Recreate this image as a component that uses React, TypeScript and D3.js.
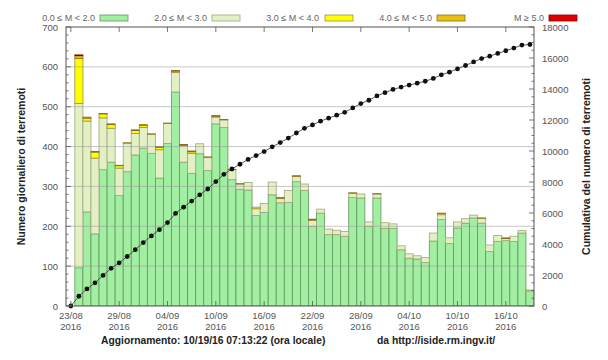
import React, { useEffect, useRef } from 'react'
import * as d3 from 'd3'

// daily counts 24/08/2016 .. 19/10/2016, split by magnitude class
const m0to2 = [96,236,181,342,361,277,337,379,396,383,321,408,537,361,333,382,340,457,448,317,293,291,227,235,279,259,260,312,290,200,233,179,179,175,272,271,200,271,195,195,141,120,118,109,163,217,157,196,208,221,208,137,162,164,162,183,38]
const m2to3 = [412,228,190,130,85,69,71,54,52,48,71,50,49,41,50,25,33,17,19,25,13,19,17,22,32,11,30,13,16,15,10,14,11,12,11,10,11,10,14,11,10,11,8,13,20,12,14,15,11,7,12,16,15,5,13,6,2]
const m3to4 = [113,7,15,10,9,6,2,7,5,0,6,0,3,2,4,0,0,2,0,0,0,0,4,0,0,0,0,0,0,1,0,0,0,0,0,0,0,0,0,0,0,0,0,0,0,3,0,0,0,0,0,0,0,0,0,0,0]
const m4to5 = [7,3,2,1,2,1,0,2,2,1,2,1,2,1,2,0,1,2,1,1,1,0,0,0,0,2,0,2,0,2,0,0,0,0,1,0,0,1,0,0,0,0,0,0,0,1,0,0,0,0,1,0,0,2,0,0,0]
const m5plus = [2,0,0,0,0,0,0,0,0,0,0,0,0,0,0,0,0,0,0,0,0,0,0,0,0,0,0,0,0,0,0,0,0,0,0,0,0,0,0,0,0,0,0,0,0,0,0,0,0,0,0,0,0,0,0,0,0]

const classLabels = ['0.0 \u2264 M < 2.0', '2.0 \u2264 M < 3.0', '3.0 \u2264 M < 4.0', '4.0 \u2264 M < 5.0', 'M \u2265 5.0']
const classColors = ['#a2eea2', '#e3f0c6', '#ffff00', '#e8c010', '#e00000']
const classStrokes = ['#62965a', '#a0a878', '#9a9040', '#8a7020', '#900000']

const tickDays = [0, 6, 12, 18, 24, 30, 36, 42, 48, 54]
const tickLabels = ['23/08', '29/08', '04/09', '10/09', '16/09', '22/09', '28/09', '04/10', '10/10', '16/10']
const leftTicks = [0, 100, 200, 300, 400, 500, 600, 700]
const rightTicks = [0, 2000, 4000, 6000, 8000, 10000, 12000, 14000, 16000, 18000]

const W = 608
const H = 360
const font = 'Liberation Sans, Arial, Helvetica, sans-serif'

const App = () => {
  const svgRef = useRef(null)

  useEffect(() => {
    document.body.style.margin = '0'
    const svg = d3.select(svgRef.current)
    svg.selectAll('*').remove()

    const left = 66, right = 534, top = 27, bottom = 306
    const x = d3.scaleLinear().domain([-0.6, 57.5]).range([left, right])
    const y = d3.scaleLinear().domain([0, 700]).range([bottom, top])
    const y2 = d3.scaleLinear().domain([0, 18000]).range([bottom, top])
    const dayW = x(1) - x(0)

    const rows = m0to2.map((v, i) => ({
      day: i + 1, a: v, b: m2to3[i], c: m3to4[i], d: m4to5[i], e: m5plus[i],
    }))
    const keys = ['a', 'b', 'c', 'd', 'e']
    const series = d3.stack().keys(keys)(rows)

    svg.append('defs').append('clipPath').attr('id', 'plotclip')
      .append('rect').attr('x', left).attr('y', top).attr('width', right - left).attr('height', bottom - top)

    const plot = svg.append('g').attr('clip-path', 'url(#plotclip)')

    series.forEach((s, k) => {
      plot.append('g').selectAll('rect')
        .data(s.filter(d => d[1] - d[0] > 0))
        .join('rect')
        .attr('x', d => x(d.data.day) - dayW / 2)
        .attr('y', d => y(d[1]))
        .attr('width', dayW)
        .attr('height', d => y(d[0]) - y(d[1]))
        .attr('fill', classColors[k])
        .attr('stroke', classStrokes[k])
        .attr('stroke-width', 0.8)
    })

    // grid
    svg.append('g').selectAll('line')
      .data(leftTicks.filter(t => t > 0 && t < 700))
      .join('line')
      .attr('x1', left).attr('x2', right)
      .attr('y1', d => y(d)).attr('y2', d => y(d))
      .attr('stroke', '#9a9a9a').attr('stroke-opacity', 0.55).attr('stroke-width', 1)

    // cumulative
    const totals = rows.map(r => r.a + r.b + r.c + r.d + r.e)
    const cum = [0, ...d3.cumsum(totals)]
    const pts = cum.map((v, i) => [i, v])
    svg.append('path')
      .attr('d', d3.line().x(d => x(d[0])).y(d => y2(d[1]))(pts))
      .attr('fill', 'none').attr('stroke', '#333').attr('stroke-width', 0.8)
    svg.append('g').selectAll('circle').data(pts).join('circle')
      .attr('cx', d => x(d[0])).attr('cy', d => y2(d[1])).attr('r', 2.4).attr('fill', '#111')

    // frame
    svg.append('rect').attr('x', left).attr('y', top).attr('width', right - left).attr('height', bottom - top)
      .attr('fill', 'none').attr('stroke', '#555').attr('stroke-width', 1)

    const ticks = svg.append('g').attr('stroke', '#555').attr('stroke-width', 0.8)
    d3.range(0, 701, 20).forEach(v => {
      const len = v % 100 === 0 ? 5 : 2.5
      ticks.append('line').attr('x1', left).attr('x2', left + len).attr('y1', y(v)).attr('y2', y(v))
    })
    d3.range(0, 18001, 500).forEach(v => {
      const len = v % 2000 === 0 ? 5 : 2.5
      ticks.append('line').attr('x1', right).attr('x2', right - len).attr('y1', y2(v)).attr('y2', y2(v))
    })
    tickDays.forEach(dd => {
      ticks.append('line').attr('x1', x(dd)).attr('x2', x(dd)).attr('y1', bottom).attr('y2', bottom - 5)
      ticks.append('line').attr('x1', x(dd)).attr('x2', x(dd)).attr('y1', top).attr('y2', top + 5)
    })

    const lab = svg.append('g').attr('font-family', font).attr('font-size', 9.5).attr('fill', '#555')
    leftTicks.forEach(t => {
      lab.append('text').attr('x', left - 8).attr('y', y(t) + 3.5).attr('text-anchor', 'end').text(t)
    })
    rightTicks.forEach(t => {
      lab.append('text').attr('x', right + 8).attr('y', y2(t) + 3.5).text(t)
    })
    tickDays.forEach((dd, i) => {
      lab.append('text').attr('x', x(dd)).attr('y', bottom + 13).attr('text-anchor', 'middle').text(tickLabels[i])
      lab.append('text').attr('x', x(dd)).attr('y', bottom + 24).attr('text-anchor', 'middle').text('2016')
    })

    // axis titles
    svg.append('text').attr('transform', `translate(25,${(top + bottom) / 2}) rotate(-90)`)
      .attr('text-anchor', 'middle').attr('font-family', font).attr('font-size', 10.5)
      .attr('font-weight', 'bold').attr('fill', '#222').text('Numero giornaliero di terremoti')
    svg.append('text').attr('transform', `translate(590,${(top + bottom) / 2}) rotate(-90)`)
      .attr('text-anchor', 'middle').attr('font-family', font).attr('font-size', 10.5)
      .attr('font-weight', 'bold').attr('fill', '#222').text('Cumulativa del numero di terremoti')

    // legend
    const legX = [[95, 100], [207, 212], [319, 325], [432, 437], [544, 549]]
    const leg = svg.append('g').attr('font-family', font).attr('font-size', 9).attr('fill', '#666')
    classLabels.forEach((l, i) => {
      leg.append('text').attr('x', legX[i][0]).attr('y', 21).attr('text-anchor', 'end').text(l)
      leg.append('rect').attr('x', legX[i][1]).attr('y', 15).attr('width', 28).attr('height', 6)
        .attr('fill', classColors[i]).attr('stroke', classStrokes[i]).attr('stroke-width', 0.8)
    })

    // footer
    svg.append('text').attr('x', 101).attr('y', 344).attr('font-family', font).attr('font-size', 10.3)
      .attr('font-weight', 'bold').attr('fill', '#222').text('Aggiornamento: 10/19/16 07:13:22 (ora locale)')
    svg.append('text').attr('x', 377).attr('y', 344).attr('font-family', font).attr('font-size', 10.3)
      .attr('font-weight', 'bold').attr('fill', '#222').text('da http://iside.rm.ingv.it/')
  }, [])

  return (
    <svg ref={svgRef} width={W} height={H} style={{ display: 'block', background: '#fff' }}></svg>
  )
}

export default App
